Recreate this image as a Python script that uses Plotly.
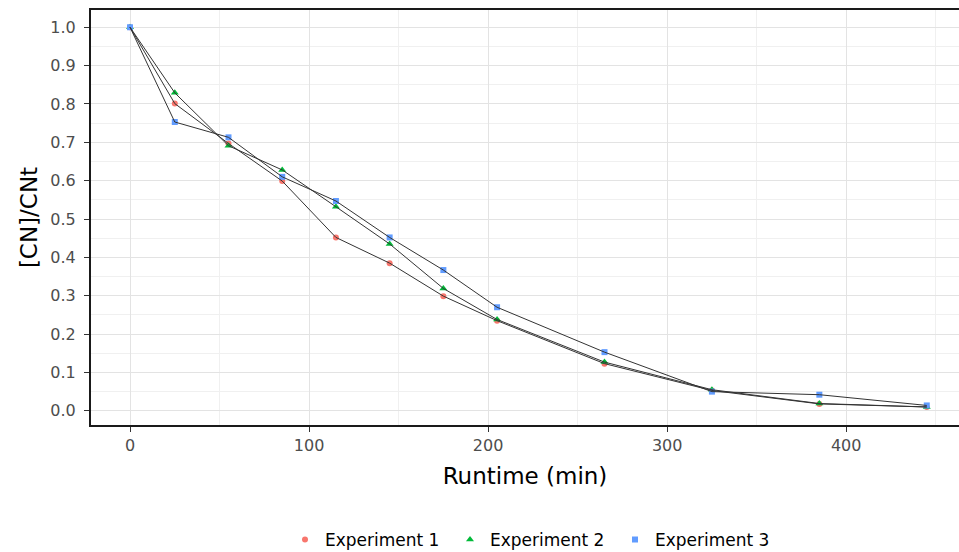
import plotly.graph_objects as go

runtime = [0, 25, 55, 85, 115, 145, 175, 205, 265, 325, 385, 445]
exp1 = [1.0, 0.801, 0.697, 0.599, 0.452, 0.385, 0.299, 0.235, 0.123, 0.053, 0.018, 0.010]
exp2 = [1.0, 0.829, 0.691, 0.628, 0.532, 0.435, 0.319, 0.238, 0.127, 0.055, 0.019, 0.010]
exp3 = [1.0, 0.753, 0.713, 0.610, 0.547, 0.452, 0.367, 0.270, 0.153, 0.050, 0.042, 0.014]

names = ["Experiment 1", "Experiment 2", "Experiment 3"]
series = [exp1, exp2, exp3]
colors = ["#F8766D", "#00BA38", "#619CFF"]
symbols = ["circle", "triangle-up", "square"]
sizes = [6, 7, 6]

FONT = "DejaVu Sans, Arial, sans-serif"

fig = go.Figure()
for n, s, c, sym, sz in zip(names, series, colors, symbols, sizes):
    fig.add_trace(go.Scatter(x=runtime, y=s, mode="markers", name=n,
                             marker=dict(color=c, symbol=sym, size=sz)))
for n, s in zip(names, series):
    fig.add_trace(go.Scatter(x=runtime, y=s, mode="lines", showlegend=False,
                             line=dict(color="#333333", width=1.0), hoverinfo="skip"))

fig.update_layout(
    width=959, height=552, autosize=False,
    margin=dict(l=91, r=0, t=10, b=127, autoexpand=False),
    plot_bgcolor="white", paper_bgcolor="white",
    font=dict(family=FONT, color="#000"),
    legend=dict(orientation="h", x=0.2235, xanchor="left",
                y=-0.277, yanchor="middle",
                font=dict(size=17, color="#000", family=FONT),
                entrywidth=120, entrywidthmode="pixels", itemwidth=30,
                tracegroupgap=0),
)

fig.update_xaxes(
    range=[-21.8, 463], tickvals=[0, 100, 200, 300, 400],
    showgrid=True, gridcolor="#e3e3e3", gridwidth=1,
    minor=dict(tickvals=[50, 150, 250, 350, 450], showgrid=True, gridcolor="#f0f0f0", gridwidth=1),
    showline=True, linecolor="#1a1a1a", linewidth=2, mirror=True,
    ticks="outside", ticklen=5, tickcolor="#333", tickwidth=1,
    tickfont=dict(size=16, color="#4d4d4d", family=FONT),
    title=dict(text="Runtime (min)", font=dict(size=23, color="#000", family=FONT), standoff=14),
    zeroline=False,
)
fig.update_yaxes(
    range=[-0.037, 1.045], tickvals=[i / 10 for i in range(11)],
    ticktext=[f"{i/10:.1f}" for i in range(11)],
    showgrid=True, gridcolor="#e3e3e3", gridwidth=1,
    minor=dict(tickvals=[i / 10 + 0.05 for i in range(10)], showgrid=True, gridcolor="#f0f0f0", gridwidth=1),
    showline=True, linecolor="#1a1a1a", linewidth=2, mirror=False,
    ticks="outside", ticklen=5, tickcolor="#333", tickwidth=1, ticklabelstandoff=5,
    tickfont=dict(size=16, color="#4d4d4d", family=FONT),
    title=dict(text="[CN]/CNt", font=dict(size=23, color="#000", family=FONT), standoff=6),
    zeroline=False,
)

fig.write_html("out.html")
